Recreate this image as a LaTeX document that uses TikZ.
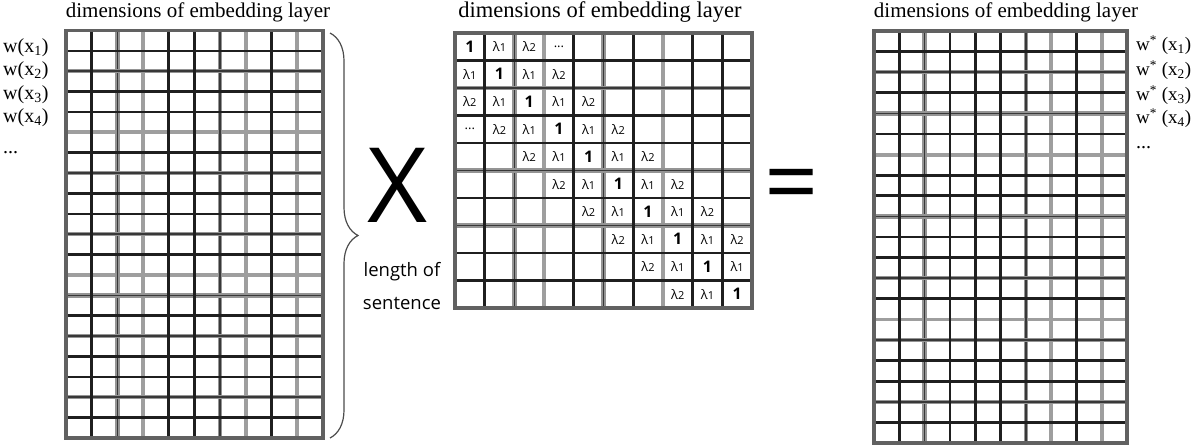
\documentclass[tikz,border=0pt]{standalone}
\usepackage{fontspec}
\setmainfont{Liberation Serif}
\newfontfamily\osans{Open Sans}
\usetikzlibrary{decorations.pathreplacing}
\newcommand\vlns[6]{\foreach \i in {#2} \draw[#1] ({#3+\i*#4},#5) -- ({#3+\i*#4},#6);}
\newcommand\hlns[6]{\foreach \i in {#2} \draw[#1] (#5,{#3+\i*#4}) -- (#6,{#3+\i*#4});}
\begin{document}
\begin{tikzpicture}[x=1pt,y=-1pt,
  lnd/.style={line width=2.7pt, black!88},
  lng/.style={line width=1.7pt, black!78, preaction={draw, line width=4.4pt, black!42}},
  lnl/.style={line width=3.8pt, black!38},
  bord/.style={line width=3.6pt, black!62},
  title/.style={font=\fontsize{21}{24}\selectfont, anchor=base, inner sep=0pt},
  wlab/.style={font=\fontsize{20}{22}\selectfont, anchor=west, inner sep=0pt},
  cell/.style={font=\osans\fontsize{13}{12}\selectfont, inner sep=0pt},
  one/.style={font=\osans\bfseries\fontsize{16}{16}\selectfont, inner sep=0pt},
  big/.style={font=\osans\fontsize{104}{104}\selectfont, inner sep=0pt},
]
\useasboundingbox (0,0) rectangle (1197,447);

% ---------- left matrix ----------
\vlns{lnl}{3,7,9}{66}{25.7}{30.5}{438}
\hlns{lnl}{5,12}{30.5}{20.375}{66}{323}
\vlns{lng}{2,6}{66}{25.7}{30.5}{438}
\hlns{lng}{2,7,10,13,15,18}{30.5}{20.375}{66}{323}
\vlns{lnd}{1,4,5,8}{66}{25.7}{30.5}{438}
\hlns{lnd}{1,3,4,6,8,9,11,14,16,17,19}{30.5}{20.375}{66}{323}
\draw[bord] (66,30.5) rectangle (323,438);

% ---------- middle matrix ----------
\vlns{lnl}{3,7}{455}{29.7}{33}{308}
\vlns{lng}{2,5}{455}{29.7}{33}{308}
\hlns{lng}{2,5,7}{33}{27.5}{455}{752}
\vlns{lnd}{1,4,6,8,9}{455}{29.7}{33}{308}
\hlns{lnd}{1,3,4,6,8,9}{33}{27.5}{455}{752}
\draw[bord] (455,33) rectangle (752,308);

% ---------- right matrix ----------
\vlns{lnl}{7,9}{874}{25.3}{31}{443}
\hlns{lnl}{6,14}{31}{20.6}{874}{1127}
\vlns{lng}{2,6}{874}{25.3}{31}{443}
\hlns{lng}{2,4,9,12,15,18}{31}{20.6}{874}{1127}
\vlns{lnd}{1,3,4,5,8}{874}{25.3}{31}{443}
\hlns{lnd}{1,3,5,7,8,10,11,13,16,17,19}{31}{20.6}{874}{1127}
\draw[bord] (874,31) rectangle (1127,443);

% ---------- middle matrix entries ----------
\foreach \r in {0,...,9}{\foreach \c in {0,...,9}{
  \pgfmathtruncatemacro\dd{abs(\r-\c)}
  \pgfmathsetmacro\cx{455+(\c+0.5)*29.7}
  \pgfmathsetmacro\cy{33+(\r+0.5)*27.5}
  \ifnum\dd=0 \node[one] (m-\r-\c) at (\cx,\cy) {1};\fi
  \ifnum\dd=1 \node[cell] (m-\r-\c) at (\cx,\cy) {λ{\fontsize{11}{10}\selectfont 1}};\fi
  \ifnum\dd=2 \node[cell] (m-\r-\c) at (\cx,\cy) {λ{\fontsize{11}{10}\selectfont 2}};\fi
}}
\node[cell] (m-0-3) at ({455+3.5*29.7},{33+0.5*27.5}) {...};
\node[cell] (m-3-0) at ({455+0.5*29.7},{33+3.5*27.5}) {...};

% ---------- titles ----------
\node[title] (t1) at (198,17) {dimensions of embedding layer};
\node[title, font=\fontsize{22.5}{24}\selectfont] (t2) at (600,17.5) {dimensions of embedding layer};
\node[title] (t3) at (1006,17) {dimensions of embedding layer};

% ---------- row labels ----------
\node[wlab] (l1) at (3,48) {w(x\textsubscript{1})};
\node[wlab] (l2) at (3,71) {w(x\textsubscript{2})};
\node[wlab] (l3) at (3,95) {w(x\textsubscript{3})};
\node[wlab] (l4) at (3,118) {w(x\textsubscript{4})};
\node[wlab] (l5) at (3,153) {...};
\node[wlab, font=\fontsize{19}{22}\selectfont] (r1) at (1136,45) {w\textsuperscript{*} (x\textsubscript{1})};
\node[wlab, font=\fontsize{19}{22}\selectfont] (r2) at (1136,70) {w\textsuperscript{*} (x\textsubscript{2})};
\node[wlab, font=\fontsize{19}{22}\selectfont] (r3) at (1136,95) {w\textsuperscript{*} (x\textsubscript{3})};
\node[wlab, font=\fontsize{19}{22}\selectfont] (r4) at (1136,118) {w\textsuperscript{*} (x\textsubscript{4})};
\node[wlab] (r5) at (1136,148) {...};

% ---------- brace and operators ----------
\coordinate (btop) at (330,33);
\coordinate (bbot) at (330,438);
\draw[decorate, decoration={brace, amplitude=28pt}, line width=1.2pt, black!70] (btop) -- (bbot);
\node[big] (times) at (398,185) {X};
\node[big, font=\osans\fontsize{95}{95}\selectfont, anchor=base] (eq) at (792,215) {=};
\node[font=\osans\fontsize{18.5}{33}\selectfont, align=center, inner sep=0pt] (len) at (402,286) {length of\\sentence};
\end{tikzpicture}
\end{document}
